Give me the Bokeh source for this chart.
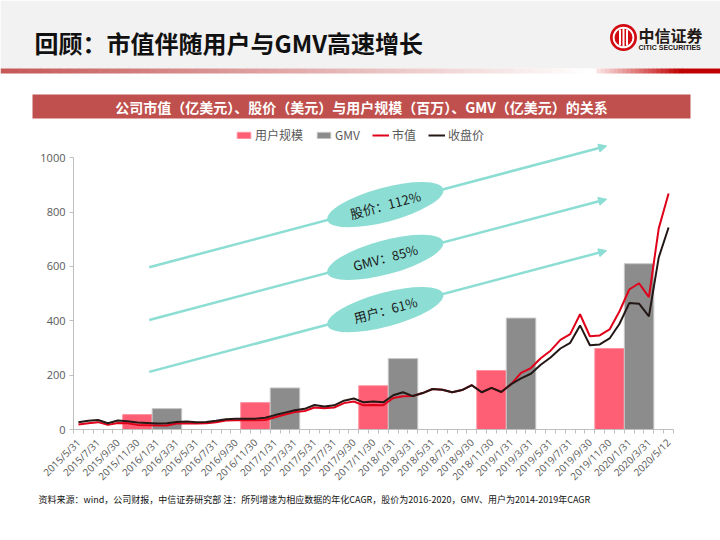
import math
from bokeh.plotting import figure
from bokeh.models import Range1d, FixedTicker, Legend, LegendItem, Arrow, NormalHead
from bokeh.layouts import column
from bokeh.core.properties import value
from bokeh.embed import file_html
from bokeh.resources import INLINE

# ---------------- data ----------------
dates = [
    "2015/5/31", "2015/6/30", "2015/7/31", "2015/8/31", "2015/9/30", "2015/10/31", "2015/11/30", "2015/12/31",
    "2016/1/31", "2016/2/29", "2016/3/31", "2016/4/30", "2016/5/31", "2016/6/30", "2016/7/31", "2016/8/31",
    "2016/9/30", "2016/10/31", "2016/11/30", "2016/12/31",
    "2017/1/31", "2017/2/28", "2017/3/31", "2017/4/30", "2017/5/31", "2017/6/30", "2017/7/31", "2017/8/31",
    "2017/9/30", "2017/10/31", "2017/11/30", "2017/12/31",
    "2018/1/31", "2018/2/28", "2018/3/31", "2018/4/30", "2018/5/31", "2018/6/30", "2018/7/31", "2018/8/31",
    "2018/9/30", "2018/10/31", "2018/11/30", "2018/12/31",
    "2019/1/31", "2019/2/28", "2019/3/31", "2019/4/30", "2019/5/31", "2019/6/30", "2019/7/31", "2019/8/31",
    "2019/9/30", "2019/10/31", "2019/11/30", "2019/12/31",
    "2020/1/31", "2020/2/29", "2020/3/31", "2020/4/30", "2020/5/12",
]

# annual bars (users in millions, GMV in 100M USD), placed at these categories
user_dates = ["2015/11/30", "2016/11/30", "2017/11/30", "2018/11/30", "2019/11/30"]
users = [55, 99, 161, 217, 298]
gmv_dates = ["2016/2/29", "2017/2/28", "2018/2/28", "2019/2/28", "2020/2/29"]
gmv = [77, 153, 261, 410, 610]

# monthly market cap (100M USD) and closing price (USD)
market_cap = [18, 23, 27, 17, 24, 23, 17, 16, 15, 15,
              22, 23, 22, 23, 27, 33, 34, 34, 34, 35,
              45, 55, 64, 68, 81, 78, 81, 97, 103, 89,
              90, 89, 116, 122, 123, 134, 149, 146, 137, 145,
              163, 137, 153, 138, 167, 208, 226, 262, 290, 330,
              351, 424, 343, 346, 368, 434, 515, 538, 487, 740, 868]
close_price = [27, 32, 35, 23, 33, 30, 26, 24, 22, 23,
               28, 29, 27, 28, 32, 38, 40, 40, 40, 43,
               53, 62, 71, 76, 90, 85, 89, 106, 114, 100,
               103, 100, 126, 137, 123, 134, 149, 146, 137, 145,
               163, 137, 153, 138, 167, 188, 205, 238, 265, 298,
               319, 383, 310, 313, 335, 388, 465, 463, 416, 633, 743]

y_ticks = [0, 200, 400, 600, 800, 1000]

series_names = ["用户规模", "GMV", "市值", "收盘价"]

# growth annotations
growth_labels = ["股价：112%", "GMV：85%", "用户：61%"]
arrow_start_x = [7.2, 7.2, 7.2]
arrow_start_y = [597, 403, 212]
arrow_end_x = [53.7, 53.7, 53.7]
arrow_end_y = [1043, 847, 658]
bubble_x = [31.2, 31.2, 31.2]
bubble_y = [827, 633, 441]

title_text = "回顾：市值伴随用户与GMV高速增长"
chart_title = "公司市值（亿美元）、股价（美元）与用户规模（百万）、GMV（亿美元）的关系"
footnote = "资料来源：wind，公司财报，中信证券研究部 注：所列增速为相应数据的年化CAGR，股价为2016-2020，GMV、用户为2014-2019年CAGR"

CJK = "Noto Sans CJK SC"
GRAY_TXT = "#595959"
TEAL = "#8CDDD3"
PINK = "#FF5F74"
BARGRAY = "#8C8C8C"
RED = "#E0001A"
BLACK = "#231815"


def blank_fig(w, h):
    f = figure(width=w, height=h, x_range=Range1d(0, w), y_range=Range1d(h, 0),
               output_backend="svg", toolbar_location=None,
               x_axis_location=None, y_axis_location=None, min_border=0)
    f.xgrid.visible = False
    f.ygrid.visible = False
    f.outline_line_color = None
    f.background_fill_color = "white"
    f.border_fill_color = "white"
    f.frame_align = False
    return f


# ---------------- header ----------------
HEAD_H = 120
head = blank_fig(720, HEAD_H)
head.quad(left=[0], right=[720], top=[0], bottom=[68], fill_color="#F2F2F2", line_color=None)

# gradient stripe
lefts, rights, cols = [], [], []
n = 60
for k in range(n):
    x0 = 592 * k / n
    x1 = 592 * (k + 1) / n + 0.5
    t = k / (n - 1)
    r = int(198 + (255 - 198) * t)
    g = int(88 + (255 - 88) * t)
    b = int(88 + (255 - 88) * t)
    lefts.append(x0); rights.append(x1); cols.append("#%02x%02x%02x" % (r, g, b))
m = 20
for k in range(m):
    x0 = 596 + 86 * k / m
    x1 = 596 + 86 * (k + 1) / m + 0.5
    t = k / (m - 1)
    r = int(250 + (192 - 250) * t)
    g = int(225 + (0 - 225) * t)
    b = int(225 + (0 - 225) * t)
    lefts.append(x0); rights.append(x1); cols.append("#%02x%02x%02x" % (r, g, b))
lefts.append(682); rights.append(720); cols.append("#C00000")
head.quad(left=lefts, right=rights, top=68, bottom=73, fill_color=cols, line_color=None)

head.text(x=[34], y=[42], text=[title_text], text_font=value(CJK), text_font_size="24px",
          text_font_style="bold", text_color="#111111", text_baseline="middle", text_align="left")

# logo
head.circle(x=[623], y=[37], radius=13.5, fill_color="#D20A11", line_color=None)
head.annulus(x=[623], y=[37], inner_radius=9.0, outer_radius=10.8, fill_color="white", line_color=None)
head.quad(left=[618.5, 622, 625.5], right=[620.5, 624, 627.5], top=[29, 27, 29], bottom=[45, 47, 45],
          fill_color="white", line_color=None)
head.text(x=[638], y=[34], text=["中信证券"], text_font=value(CJK), text_font_size="16px",
          text_font_style="bold", text_color="#231815", text_baseline="middle")
head.text(x=[638], y=[47], text=["CITIC SECURITIES"], text_font=value("Liberation Sans"),
          text_font_size="7px", text_font_style="bold", text_color="#231815", text_baseline="middle")

# chart title bar
head.quad(left=[32], right=[690], top=[94], bottom=[118], fill_color="#C0504D", line_color=None)
head.text(x=[361], y=[106.5], text=[chart_title], text_font=value(CJK), text_font_size="14px",
          text_font_style="bold", text_color="white", text_baseline="middle", text_align="center")

# ---------------- chart ----------------
FRAME_TOP = 120      # page y of frame top
FRAME_BOTTOM = 430   # page y of value 0
Y_TOP = 1000 * (FRAME_BOTTOM - FRAME_TOP) / 272.7
AXIS_SPACE = 60
CHART_H = (FRAME_BOTTOM - FRAME_TOP) + AXIS_SPACE
p = figure(width=720, height=CHART_H, x_range=Range1d(-0.5, len(dates) - 0.5), y_range=Range1d(0, Y_TOP),
           output_backend="svg", toolbar_location=None,
           min_border_left=73, min_border_right=47, min_border_top=0, min_border_bottom=AXIS_SPACE)
p.frame_align = False
p.xgrid.visible = False
p.ygrid.visible = False
p.outline_line_color = None
p.background_fill_color = "white"
p.border_fill_color = "white"

idx = list(range(len(dates)))
user_x = [dates.index(d) for d in user_dates]
gmv_x = [dates.index(d) for d in gmv_dates]

for i in range(len(growth_labels)):
    arr = Arrow(end=NormalHead(size=8, fill_color=TEAL, line_color=TEAL, line_width=1),
                x_start=arrow_start_x[i], y_start=arrow_start_y[i],
                x_end=arrow_end_x[i], y_end=arrow_end_y[i],
                line_color=TEAL, line_width=2.5, level="underlay")
    p.add_layout(arr)

r_user = p.vbar(x=user_x, top=users, width=3, fill_color=PINK, line_color="#FF93A0", line_width=1)
r_gmv = p.vbar(x=gmv_x, top=gmv, width=3, fill_color=BARGRAY, line_color="#C8C8C8", line_width=1)
r_cap = p.line(x=idx, y=market_cap, line_color=RED, line_width=2)
r_px = p.line(x=idx, y=close_price, line_color=BLACK, line_width=2)

ang = 15 * math.pi / 180
p.ellipse(x=bubble_x, y=bubble_y, width=120, height=34, width_units="screen", height_units="screen",
          angle=ang, fill_color=TEAL, line_color=None)
p.text(x=bubble_x, y=bubble_y, text=growth_labels, angle=ang, text_font=value(CJK), text_font_size="13px",
       text_color="#1a1a1a", text_align="center", text_baseline="middle")

p.yaxis.ticker = FixedTicker(ticks=y_ticks)
p.yaxis.bounds = (0, 1000)
p.yaxis.axis_line_color = "#BFBFBF"
p.yaxis.major_tick_line_color = "#BFBFBF"
p.yaxis.major_tick_out = 4
p.yaxis.major_tick_in = 0
p.yaxis.minor_tick_line_color = None
p.yaxis.major_label_text_font_size = "11px"
p.yaxis.major_label_text_color = GRAY_TXT
p.yaxis.major_label_text_font = "Open Sans"
p.yaxis.major_label_standoff = 4

label_idx = idx[::2]
p.xaxis.ticker = FixedTicker(ticks=label_idx, minor_ticks=[i - 0.5 for i in range(len(dates) + 1)])
p.xaxis.major_label_overrides = {i: dates[i] for i in label_idx}
p.xaxis.bounds = (-0.5, len(dates) - 0.5)
p.xaxis.axis_line_color = "#BFBFBF"
p.xaxis.major_tick_line_color = None
p.xaxis.minor_tick_line_color = "#BFBFBF"
p.xaxis.minor_tick_out = 4
p.xaxis.minor_tick_in = 0
p.xaxis.major_label_orientation = math.pi / 4
p.xaxis.major_label_text_font_size = "10px"
p.xaxis.major_label_text_color = GRAY_TXT
p.xaxis.major_label_text_font = "Open Sans"
p.xaxis.major_label_standoff = 5

legend = Legend(items=[LegendItem(label=series_names[0], renderers=[r_user]),
                       LegendItem(label=series_names[1], renderers=[r_gmv]),
                       LegendItem(label=series_names[2], renderers=[r_cap]),
                       LegendItem(label=series_names[3], renderers=[r_px])],
                orientation="horizontal", location=(162, FRAME_BOTTOM - 144))
legend.background_fill_alpha = 0
legend.border_line_color = None
legend.padding = 0
legend.margin = 0
legend.spacing = 12
legend.glyph_width = 17
legend.glyph_height = 8
legend.label_height = 16
legend.label_standoff = 3
legend.label_text_font = CJK
legend.label_text_font_size = "12px"
legend.label_text_color = GRAY_TXT
p.add_layout(legend)

# ---------------- footer ----------------
FOOT_H = 540 - HEAD_H - CHART_H
foot = blank_fig(720, FOOT_H)
foot.text(x=[38], y=[2], text=[footnote], text_font=value(CJK), text_font_size="9px",
          text_color="#111111", text_baseline="top", text_align="left")

layout = column(head, p, foot, spacing=0)
open("out.html", "w").write(file_html(layout, INLINE))
